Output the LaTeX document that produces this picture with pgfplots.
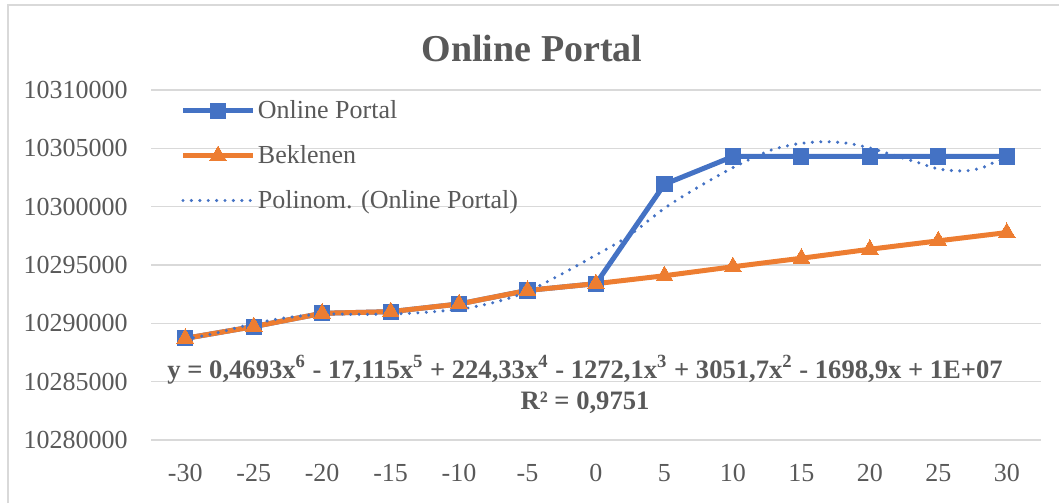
\documentclass[border=0pt]{standalone}
\usepackage{fontspec}
\setmainfont{Liberation Serif}
\usepackage{pgfplots}
\pgfplotsset{compat=1.18}
\definecolor{opblue}{HTML}{4472C4}
\definecolor{oporange}{HTML}{ED7D31}
\definecolor{gridgray}{HTML}{D9D9D9}
\definecolor{txtgray}{HTML}{595959}
\begin{document}
\begin{tikzpicture}
\path[use as bounding box] (0pt,0pt) rectangle (529.5pt,251.5pt);
\draw[gridgray, line width=0.6pt] (4pt,0pt) -- (4pt,249pt) -- (529.5pt,249pt);
\node[font=\fontsize{19}{22}\selectfont\bfseries, text=txtgray] at (266pt,227pt) {Online Portal};
\begin{axis}[
  at={(75.5pt,31.5pt)}, anchor=south west,
  scale only axis, width=445pt, height=175pt,
  xmin=-32.5, xmax=32.5, ymin=10280000, ymax=10310000,
  xtick={-30,-25,...,30}, ytick={10280000,10285000,10290000,10295000,10300000,10305000,10310000},
  yticklabels={10280000,10285000,10290000,10295000,10300000,10305000,10310000},
  axis line style={draw=none},
  ymajorgrids, grid style={gridgray, line width=0.8pt},
  major tick length=0pt,
  scaled y ticks=false,
  /pgf/number format/assume math mode=true,
  yticklabel style={anchor=east, inner sep=0pt, xshift=-11.5pt},
  xticklabel style={anchor=north, inner sep=0pt, yshift=-12pt},
  ticklabel style={font=\fontsize{13}{15}\selectfont, text=txtgray},
  legend style={draw=none, fill=none, at={(rel axis cs:0.026,0.99)}, anchor=north west,
    font=\fontsize{13}{15}\selectfont, text=txtgray, row sep=9.5pt,
    nodes={inner sep=1.2pt}},
  legend cell align=left,
  legend image code/.code={\draw[mark repeat=2,mark phase=2,#1] plot coordinates {(0pt,0pt) (17.5pt,0pt) (35pt,0pt)};},
  clip=false,
]
\addplot[opblue, line width=2.5pt, mark=square*, mark size=3.8pt, mark options={solid, fill=opblue, line width=0pt}] coordinates {
(-30,10288710) (-25,10289720) (-20,10290860) (-15,10291000) (-10,10291660) (-5,10292820) (0,10293400)
(5,10301920) (10,10304300) (15,10304300) (20,10304300) (25,10304300) (30,10304300)};
\addlegendentry{Online Portal}
\addplot[oporange, line width=2.5pt, mark=triangle*, mark size=4.8pt, mark options={solid, fill=oporange, line width=0pt}] coordinates {
(-30,10288710) (-25,10289720) (-20,10290860) (-15,10291000) (-10,10291660) (-5,10292820) (0,10293400)
(5,10294080) (10,10294850) (15,10295580) (20,10296350) (25,10297070) (30,10297780)};
\addlegendentry{Beklenen}
\addplot[opblue, line width=1.7pt, line cap=round, dash pattern=on 0pt off 4.2pt, smooth, tension=0.5] coordinates {
(-30,10288630) (-27.8,10289150) (-25.4,10289860) (-22.9,10290430) (-20,10290800) (-17.5,10290770)
(-15,10290800) (-12.7,10290920) (-10,10291200) (-8.25,10291570) (-6.8,10292000) (-5,10292720)
(-2.4,10294290) (0,10295860) (2.3,10297430) (5,10299860) (7.2,10301490) (10,10303350)
(12.5,10304720) (13.7,10305140) (15,10305430) (16.7,10305570) (18.4,10305430) (20.1,10305000)
(21.3,10304570) (22.5,10304140) (23.7,10303710) (24.8,10303290) (26,10303090) (27.2,10303090)
(28.3,10303370) (28.9,10303710) (30,10304140)};
\addlegendentry{Polinom. (Online Portal)}
\node[font=\fontsize{13.3}{15.5}\selectfont\bfseries, text=txtgray, align=center, anchor=center]
  at (axis cs:-0.8,10284760) {y = 0,4693x\textsuperscript{6} - 17,115x\textsuperscript{5} + 224,33x\textsuperscript{4} - 1272,1x\textsuperscript{3} + 3051,7x\textsuperscript{2} - 1698,9x + 1E+07\\R² = 0,9751};
\end{axis}
\end{tikzpicture}
\end{document}
